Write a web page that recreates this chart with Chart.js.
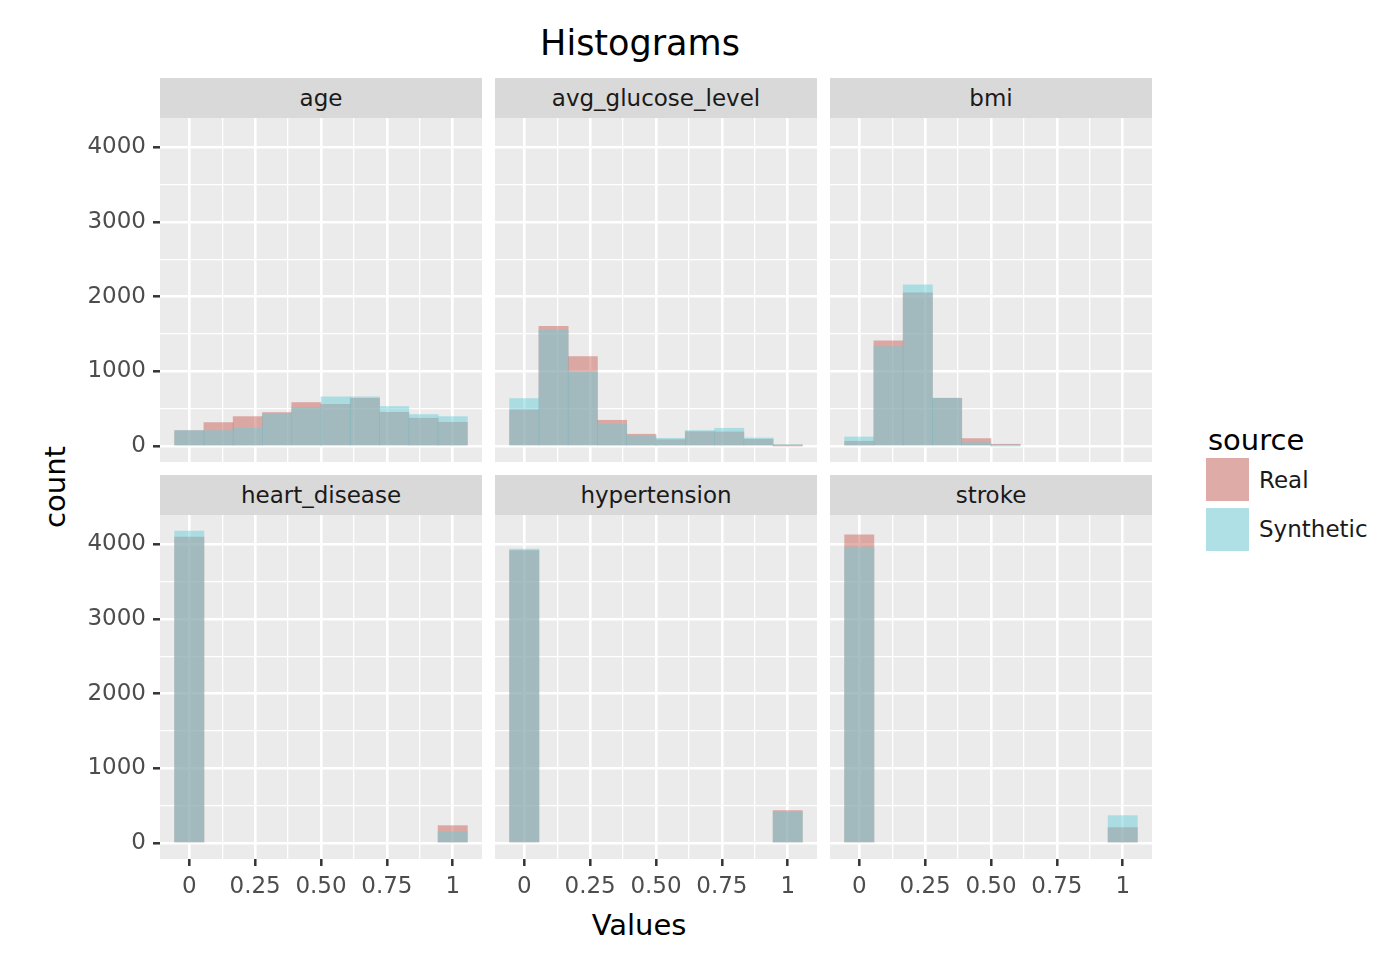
<!DOCTYPE html>
<html>
<head>
<meta charset="utf-8">
<script src="https://cdn.jsdelivr.net/npm/chart.js@4.4.1/dist/chart.umd.min.js"></script>
<style>
  html, body { margin: 0; padding: 0; background: #ffffff; }
  body { width: 1386px; height: 956px; position: relative; overflow: hidden; font-family: 'DejaVu Sans', sans-serif; }
  .txt { position: absolute; white-space: nowrap; line-height: 1; }
  .strip { position: absolute; background: #D9D9D9; color: #1A1A1A; font-size: 23px; display: flex; align-items: center; justify-content: center; }
  .panel { position: absolute; }
  .key { position: absolute; width: 43px; height: 43px; background: #F2F2F2; }
  .key > div { width: 100%; height: 100%; }
  .ltxt { position: absolute; white-space: nowrap; line-height: 1; transform: translateY(-50%); color: #1A1A1A; }
</style>
</head>
<body>
<script>
// ---------------- data ----------------
const TITLE = 'Histograms';
const X_TITLE = 'Values';
const Y_TITLE = 'count';
const LEGEND_TITLE = 'source';
const SERIES = ['Real', 'Synthetic'];
const FACETS = ['age', 'avg_glucose_level', 'bmi', 'heart_disease', 'hypertension', 'stroke'];

// bin centres (10 bins over [0, 1])
const BIN_CENTERS = [0, 1/9, 2/9, 3/9, 4/9, 5/9, 6/9, 7/9, 8/9, 1];

const realAge       = [210, 317, 397, 450, 584, 562, 642, 455, 375, 321];
const synthAge      = [210, 210, 241, 433, 522, 660, 660, 531, 424, 397];
const realGlucose   = [486, 1605, 1200, 348, 161, 89, 196, 192, 94, 4];
const synthGlucose  = [638, 1552, 990, 294, 134, 107, 210, 241, 111, 22];
const realBmi       = [67, 1409, 2051, 640, 103, 27, 0, 0, 0, 0];
const synthBmi      = [125, 1333, 2158, 645, 49, 3, 0, 0, 0, 0];
const realHeart     = [4094, 0, 0, 0, 0, 0, 0, 0, 0, 236];
const synthHeart    = [4174, 0, 0, 0, 0, 0, 0, 0, 0, 156];
const realHyper     = [3915, 0, 0, 0, 0, 0, 0, 0, 0, 436];
const synthHyper    = [3935, 0, 0, 0, 0, 0, 0, 0, 0, 420];
const realStroke    = [4125, 0, 0, 0, 0, 0, 0, 0, 0, 210];
const synthStroke   = [3960, 0, 0, 0, 0, 0, 0, 0, 0, 370];

const REAL_VALUES  = [realAge, realGlucose, realBmi, realHeart, realHyper, realStroke];
const SYNTH_VALUES = [synthAge, synthGlucose, synthBmi, synthHeart, synthHyper, synthStroke];

// ticks (major have labels, minor are blank)
const X_TICKS = [0, 0.125, 0.25, 0.375, 0.5, 0.625, 0.75, 0.875, 1];
const X_TICK_LABELS = ['0', '', '0.25', '', '0.50', '', '0.75', '', '1'];
const Y_TICKS = [0, 500, 1000, 1500, 2000, 2500, 3000, 3500, 4000];
const Y_TICK_LABELS = ['0', '', '1000', '', '2000', '', '3000', '', '4000'];

// ---------------- style / layout ----------------
const FILLS = ['rgba(203,99,91,0.5)', 'rgba(105,205,215,0.5)'];
const X_MIN = -1/9, X_MAX = 10/9;
const Y_MIN = -210, Y_MAX = 4390;
const COL_LEFT = [160, 495, 830];
const PANEL_W = 322;
const STRIP_TOP = [78, 475];
const STRIP_H = 40;
const PANEL_H = 344;
const Y_AXIS_W = 100;
const X_AXIS_H = 44;
const TICK_TEXT = '#4D4D4D';
const FONT = 'DejaVu Sans';

Chart.defaults.font.family = FONT;

const panelBg = {
  id: 'panelBg',
  beforeDraw(chart) {
    const { ctx, chartArea: a } = chart;
    ctx.save();
    ctx.fillStyle = '#EBEBEB';
    ctx.fillRect(a.left, a.top, a.right - a.left, a.bottom - a.top);
    ctx.restore();
  }
};

function addText(text, x, y, size, color, rot) {
  const d = document.createElement('div');
  d.className = 'txt';
  d.textContent = text;
  d.style.left = x + 'px';
  d.style.top = y + 'px';
  d.style.fontSize = size + 'px';
  d.style.color = color;
  d.style.transform = 'translate(-50%, -50%)' + (rot ? ' rotate(' + rot + 'deg)' : '');
  document.body.appendChild(d);
}

addText(TITLE, 640, 43, 35, '#000000');
addText(X_TITLE, 639, 925, 29, '#000000');
addText(Y_TITLE, 55, 487, 29, '#000000', -90);

// legend
(function () {
  const t = document.createElement('div');
  t.className = 'ltxt';
  t.textContent = LEGEND_TITLE;
  t.style.left = '1208px'; t.style.top = '440px'; t.style.fontSize = '29px'; t.style.color = '#000';
  document.body.appendChild(t);
  SERIES.forEach((name, i) => {
    const k = document.createElement('div');
    k.className = 'key';
    k.style.left = '1206px';
    k.style.top = (458 + i * 50) + 'px';
    const inner = document.createElement('div');
    inner.style.background = FILLS[i];
    k.appendChild(inner);
    document.body.appendChild(k);
    const l = document.createElement('div');
    l.className = 'ltxt';
    l.textContent = name;
    l.style.left = '1259px';
    l.style.top = (480 + i * 49) + 'px';
    l.style.fontSize = '23px';
    document.body.appendChild(l);
  });
})();

const fillFor = fill => c => (c.raw && c.raw.y > 0) ? fill : 'rgba(0,0,0,0)';

FACETS.forEach((name, idx) => {
  const col = idx % 3, row = Math.floor(idx / 3);
  const showY = col === 0, showX = row === 1;

  const s = document.createElement('div');
  s.className = 'strip';
  s.textContent = name;
  s.style.left = COL_LEFT[col] + 'px';
  s.style.top = STRIP_TOP[row] + 'px';
  s.style.width = PANEL_W + 'px';
  s.style.height = STRIP_H + 'px';
  document.body.appendChild(s);

  const w = PANEL_W + (showY ? Y_AXIS_W : 0);
  const h = PANEL_H + (showX ? X_AXIS_H : 0);
  const wrap = document.createElement('div');
  wrap.className = 'panel';
  wrap.style.left = (COL_LEFT[col] - (showY ? Y_AXIS_W : 0)) + 'px';
  wrap.style.top = (STRIP_TOP[row] + STRIP_H) + 'px';
  wrap.style.width = w + 'px';
  wrap.style.height = h + 'px';
  const cv = document.createElement('canvas');
  cv.width = w; cv.height = h;
  cv.style.width = w + 'px'; cv.style.height = h + 'px';
  wrap.appendChild(cv);
  document.body.appendChild(wrap);

  const zeroPad = sc => { sc.paddingTop = 0; sc.paddingBottom = 0; sc.paddingLeft = 0; sc.paddingRight = 0; };

  new Chart(cv, {
    type: 'bar',
    data: {
      datasets: [
        {
          label: SERIES[1],
          data: BIN_CENTERS.map((x, i) => ({ x: x, y: SYNTH_VALUES[idx][i] })),
          backgroundColor: fillFor(FILLS[1]),
          borderWidth: 0,
          barPercentage: 1,
          categoryPercentage: 1,
          grouped: false,
          order: 0
        },
        {
          label: SERIES[0],
          data: BIN_CENTERS.map((x, i) => ({ x: x, y: REAL_VALUES[idx][i] })),
          backgroundColor: fillFor(FILLS[0]),
          borderWidth: 0,
          barPercentage: 1,
          categoryPercentage: 1,
          grouped: false,
          order: 1
        }
      ]
    },
    options: {
      responsive: false,
      animation: false,
      layout: { padding: 0 },
      plugins: { legend: { display: false }, tooltip: { enabled: false }, title: { display: false } },
      scales: {
        x: {
          type: 'linear',
          offset: false,
          min: X_MIN, max: X_MAX,
          afterBuildTicks: sc => { sc.ticks = X_TICKS.map(v => ({ value: v })); },
          ticks: {
            display: showX,
            callback: (v, i) => X_TICK_LABELS[i],
            color: TICK_TEXT,
            font: { size: 23, family: FONT },
            padding: 7,
            autoSkip: false,
            maxRotation: 0,
            minRotation: 0
          },
          grid: {
            offset: false,
            color: '#FFFFFF',
            lineWidth: c => X_TICK_LABELS[c.index] ? 2.6 : 1.3,
            drawTicks: showX,
            tickLength: 7,
            tickWidth: 2.5,
            tickColor: c => X_TICK_LABELS[c.index] ? '#333333' : 'rgba(0,0,0,0)'
          },
          border: { display: false },
          afterFit: sc => { sc.height = showX ? X_AXIS_H : 0; zeroPad(sc); }
        },
        y: {
          type: 'linear',
          offset: false,
          min: Y_MIN, max: Y_MAX,
          afterBuildTicks: sc => { sc.ticks = Y_TICKS.map(v => ({ value: v })); },
          ticks: {
            display: showY,
            callback: (v, i) => Y_TICK_LABELS[i],
            color: TICK_TEXT,
            font: { size: 23, family: FONT },
            padding: 7,
            autoSkip: false
          },
          grid: {
            offset: false,
            color: '#FFFFFF',
            lineWidth: c => Y_TICK_LABELS[c.index] ? 2.6 : 1.3,
            drawTicks: showY,
            tickLength: 7,
            tickWidth: 2.5,
            tickColor: c => Y_TICK_LABELS[c.index] ? '#333333' : 'rgba(0,0,0,0)'
          },
          border: { display: false },
          afterFit: sc => { sc.width = showY ? Y_AXIS_W : 0; zeroPad(sc); }
        }
      }
    },
    plugins: [panelBg]
  });
});
</script>
</body>
</html>
